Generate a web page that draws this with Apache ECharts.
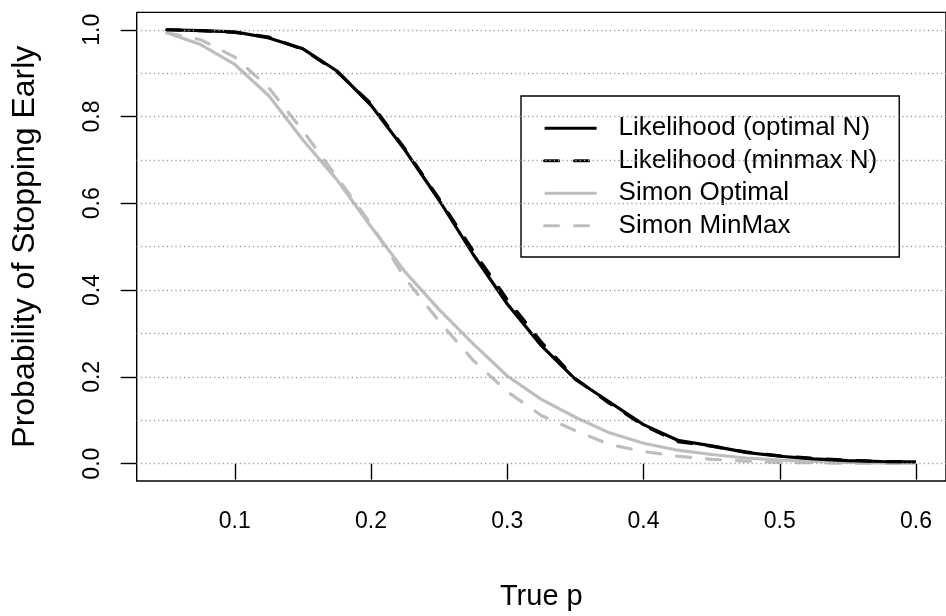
<!DOCTYPE html>
<html>
<head>
<meta charset="utf-8">
<script src="https://cdn.jsdelivr.net/npm/echarts@6/dist/echarts.min.js"></script>
<style>html,body{margin:0;padding:0;background:#fff}#c{width:946px;height:616px}</style>
</head>
<body>
<div id="c"></div>
<script>
const trueP = [0.05,0.075,0.1,0.125,0.15,0.175,0.2,0.225,0.25,0.275,0.3,0.325,0.35,0.375,0.4,0.425,0.45,0.475,0.5,0.525,0.55,0.575,0.6];
const likOptimal = [1.000,0.998,0.995,0.981,0.956,0.905,0.826,0.722,0.607,0.482,0.368,0.272,0.194,0.142,0.090,0.054,0.041,0.026,0.017,0.011,0.007,0.005,0.004];
const likMinmax  = [1.000,0.998,0.994,0.983,0.955,0.903,0.830,0.725,0.610,0.490,0.378,0.280,0.196,0.139,0.088,0.051,0.040,0.027,0.018,0.012,0.008,0.005,0.004];
const simonOptimal = [0.993,0.966,0.920,0.848,0.746,0.654,0.546,0.442,0.355,0.276,0.202,0.148,0.107,0.071,0.047,0.031,0.021,0.013,0.008,0.005,0.003,0.002,0.001];
const simonMinMax  = [0.993,0.977,0.937,0.866,0.767,0.660,0.552,0.427,0.328,0.238,0.166,0.111,0.076,0.044,0.028,0.017,0.010,0.006,0.003,0.002,0.001,0.0005,0.0002];
const xTicks = [0.1,0.2,0.3,0.4,0.5,0.6];
const yTicks = [0,0.2,0.4,0.6,0.8,1.0];
const gridLevels = [0,0.1,0.2,0.3,0.4,0.5,0.6,0.7,0.8,0.9,1.0];

const FONT = "'Liberation Sans', Arial, Helvetica, sans-serif";
const pairs = ys => trueP.map((p,i)=>[p, ys[i]]);
const chart = echarts.init(document.getElementById('c'), null, {renderer:'canvas'});
chart.setOption({
  animation:false,
  backgroundColor:'#fff',
  grid:{left:136.7, top:12.4, width:810.8, height:475.2, show:true, borderColor:'#000', borderWidth:1.4, backgroundColor:'transparent'},
  xAxis:{
    type:'value', min:0.028, max:0.622,
    name:'True p', nameLocation:'middle', nameGap:101,
    nameTextStyle:{fontFamily:FONT, fontSize:29, color:'#000'},
    axisLine:{show:false},
    splitLine:{show:false},
    axisTick:{show:true, inside:false, length:16, customValues:xTicks, lineStyle:{color:'#000', width:1.4}},
    axisLabel:{show:true, customValues:xTicks, margin:29, fontFamily:FONT, fontSize:23, color:'#000', formatter:v=>v.toFixed(1)}
  },
  yAxis:{
    type:'value', min:-0.04, max:1.04,
    name:'Probability of Stopping Early', nameLocation:'middle', nameGap:96,
    nameTextStyle:{fontFamily:FONT, fontSize:32, color:'#000'},
    axisLine:{show:false},
    splitLine:{show:false},
    axisTick:{show:true, inside:false, length:16, customValues:yTicks, lineStyle:{color:'#000', width:1.4}},
    axisLabel:{show:true, customValues:yTicks, rotate:90, margin:33, fontFamily:FONT, fontSize:23, color:'#000', formatter:v=>v.toFixed(1)}
  },
  legend:{
    left:521, top:96, orient:'vertical',
    backgroundColor:'#fff', borderColor:'#000', borderWidth:1.4,
    padding:[18,22,17,22], itemGap:4, itemWidth:52, itemHeight:14,
    itemStyle:{opacity:0, color:'transparent', borderWidth:0},
    lineStyle:{width:3.2},
    textStyle:{fontFamily:FONT, fontSize:26, color:'#000', lineHeight:28.5, padding:[0,0,0,17]},
    data:['Likelihood (optimal N)','Likelihood (minmax N)','Simon Optimal','Simon MinMax']
  },
  series:[
    {name:'Simon MinMax', type:'line', data:pairs(simonMinMax), symbol:'none', z:2,
     lineStyle:{color:'#bebebe', width:3.2, type:[14,16], cap:'round'}, itemStyle:{color:'#bebebe'},
     markLine:{silent:true, symbol:['none','none'], label:{show:false},
       lineStyle:{color:'#a0a0a0', width:1.3, type:[1.3,3]},
       data:gridLevels.map(v=>({yAxis:v}))}},
    {name:'Simon Optimal', type:'line', data:pairs(simonOptimal), symbol:'none', z:3,
     lineStyle:{color:'#bebebe', width:3.2, type:'solid'}, itemStyle:{color:'#bebebe'}},
    {name:'Likelihood (optimal N)', type:'line', data:pairs(likOptimal), symbol:'none', z:4,
     lineStyle:{color:'#000', width:3.2, type:'solid'}, itemStyle:{color:'#000'}},
    {name:'Likelihood (minmax N)', type:'line', data:pairs(likMinmax), symbol:'none', z:5,
     lineStyle:{color:'#000', width:3.2, type:[14,16], cap:'round'}, itemStyle:{color:'#000'}}
  ]
});
</script>
</body>
</html>
